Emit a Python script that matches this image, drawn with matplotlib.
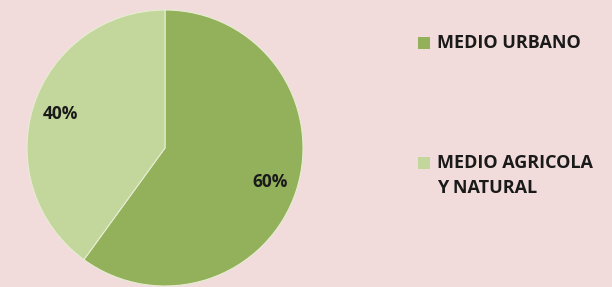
import matplotlib
matplotlib.use("Agg")
import matplotlib.pyplot as plt
from matplotlib.patches import Rectangle

# Data
labels = ["MEDIO URBANO", "MEDIO AGRICOLA\nY NATURAL"]
values = [60, 40]
colors = ["#93B05A", "#C3D69B"]

bg = "#F2DCDB"
W, H = 612, 287

fig = plt.figure(figsize=(W / 100, H / 100), dpi=100)
fig.patch.set_facecolor(bg)

# pie: centre (165, 148) px, radius 138 px
cx, cy, r = 165, 148, 138
ax = fig.add_axes([(cx - r) / W, (H - cy - r) / H, 2 * r / W, 2 * r / H])
ax.set_facecolor(bg)

wedges, _, pcts = ax.pie(
    values, colors=colors, startangle=90, counterclock=False,
    autopct="%d%%", pctdistance=0.8,
    wedgeprops=dict(edgecolor="#E6EDD3", linewidth=0.8),
    textprops=dict(fontsize=12.5, fontweight="bold", family="Open Sans",
                   color="#1a1a1a"),
)
ax.set_xlim(-1, 1)
ax.set_ylim(-1, 1)
ax.set_aspect("equal")
ax.axis("off")

# legend, drawn by hand so the square sits on the first line
rows_y = [43, 163]
font = dict(fontsize=13, fontweight="bold", family="Open Sans", color="#1a1a1a")
for lab, col, y in zip(labels, colors, rows_y):
    fig.patches.append(Rectangle((418 / W, (H - y - 6) / H), 12 / W, 12 / H,
                                 transform=fig.transFigure, facecolor=col,
                                 edgecolor="none"))
    for k, line in enumerate(lab.split("\n")):
        fig.text(437 / W, (H - y - 25 * k) / H, line, ha="left", va="center",
                 **font)

fig.savefig("out.png", dpi=100, facecolor=bg)
